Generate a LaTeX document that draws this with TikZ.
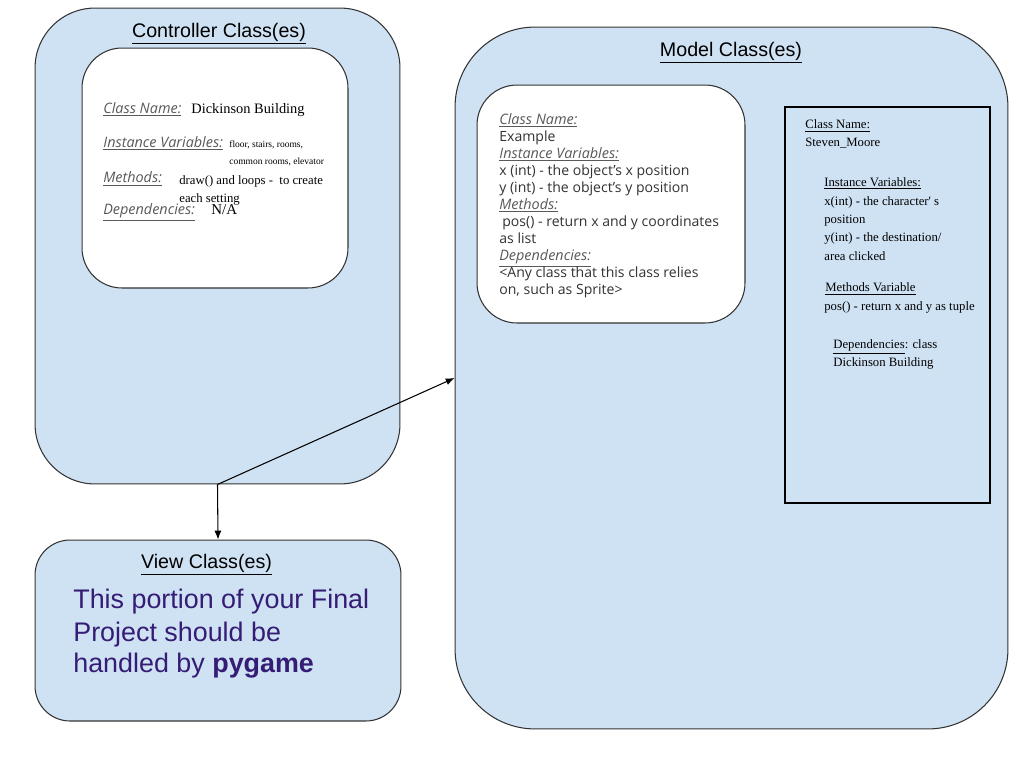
\documentclass[tikz,border=0pt]{standalone}
\usepackage{fontspec}
\usepackage{xcolor}
\usepackage{tikz}
\usetikzlibrary{arrows.meta,positioning}
\newfontfamily\arialfont{Liberation Sans}
\newfontfamily\opensansfont{Open Sans}
\newfontfamily\timesfont{Liberation Serif}
\definecolor{boxblue}{HTML}{CFE2F3}
\definecolor{viewpurple}{HTML}{351C75}
\definecolor{labelgray}{HTML}{595959}
\definecolor{textgray}{HTML}{333333}
\tikzset{classbox/.style={draw=black!80,fill=boxblue,line width=0.6pt,inner sep=0pt},
  innerbox/.style={draw=black!80,fill=white,line width=0.6pt,inner sep=0pt,rounded corners=0.8cm},
  boxtitle/.style={font=\arialfont\fontsize{11.2}{13}\selectfont,anchor=base,inner sep=0pt},
  fieldlabel/.style={font=\opensansfont\itshape\fontsize{8.2}{9.6}\selectfont,text=labelgray,anchor=base west,inner sep=0pt},
  exampletext/.style={font=\opensansfont\fontsize{8}{9.6}\selectfont,text=textgray,anchor=base west,inner sep=0pt},
  serifvalue/.style={font=\timesfont\fontsize{7.25}{9}\selectfont,anchor=base west,inner sep=0pt},
  seriftiny/.style={font=\timesfont\fontsize{5.4}{6.5}\selectfont,anchor=base west,inner sep=0pt},
  viewtext/.style={font=\arialfont\fontsize{15.3}{18.3}\selectfont,text=viewpurple,anchor=base west,inner sep=0pt}}

\begin{document}
\begin{tikzpicture}[>={Latex[length=5pt,width=4pt]},x=0.02cm,y=-0.02cm]
    \useasboundingbox (0,0) rectangle (1024,768);

    % controller
    \node[classbox,rounded corners=1.2cm,minimum width=7.3cm,minimum height=9.52cm] (ctrl) at (217.5,246) {};
    \node[boxtitle] (ctrltitle) at (219,37) {\underline{Controller Class(es)}};
    \node[innerbox,minimum width=5.32cm,minimum height=4.8cm] (ctrlin) at (215,168) {};
    \node[fieldlabel] (cname) at (103,113) {\underline{Class Name:}};
    \node[serifvalue,font=\timesfont\fontsize{8.2}{9}\selectfont] (cnameval) at (191,113) {Dickinson Building};
    \node[fieldlabel] (cvars) at (103,147) {\underline{Instance Variables:}};
    \node[seriftiny] (cvarsval) at (229,147.3) {floor, stairs, rooms,};
    \node[seriftiny] (cvarsval2) at (229,164) {common rooms, elevator};
    \node[fieldlabel] (cmeth) at (103,182.7) {\underline{Methods:}};
    \node[serifvalue] (cmethval) at (179,184) {draw() and loops -\ \ to create};
    \node[serifvalue] (cmethval2) at (179,202) {each setting};
    \node[fieldlabel] (cdeps) at (103,214) {\underline{Dependencies:}};
    \node[serifvalue,font=\timesfont\fontsize{8.5}{9}\selectfont] (cdepsval) at (211,214) {N/A};

    % view
    \node[classbox,rounded corners=0.7cm,minimum width=7.32cm,minimum height=3.62cm] (view) at (218,630.5) {};
    \node[boxtitle] (viewtitle) at (206.5,568.3) {\underline{View Class(es)}};
    \node[viewtext] (view1) at (73,608.3) {This portion of your Final};
    \node[viewtext] (view2) at (73,641) {Project should be};
    \node[viewtext] (view3) at (73,672.3) {handled by \textbf{pygame}};

    % model
    \node[classbox,rounded corners=1.6cm,minimum width=11.06cm,minimum height=14.04cm] (model) at (731.5,378) {};
    \node[boxtitle] (modeltitle) at (731,56) {\underline{Model Class(es)}};

    \node[innerbox,minimum width=5.36cm,minimum height=4.76cm] (example) at (611,204) {};
    \node[fieldlabel] (ename) at (499,124) {\underline{Class Name:}};
    \node[exampletext] (enameval) at (499,141) {Example};
    \node[fieldlabel] (evars) at (499,158) {\underline{Instance Variables:}};
    \node[exampletext] (evarsval) at (499,175) {x (int) - the object’s x position};
    \node[exampletext] (evarsval2) at (499,192) {y (int) - the object’s y position};
    \node[fieldlabel] (emeth) at (499,209) {\underline{Methods:}};
    \node[exampletext] (emethval) at (502,226) {pos() - return x and y coordinates};
    \node[exampletext] (emethval2) at (499,243) {as list};
    \node[fieldlabel] (edeps) at (499,260) {\underline{Dependencies:}};
    \node[exampletext] (edepsval) at (499,277) {<Any class that this class relies};
    \node[exampletext] (edepsval2) at (499,294) {on, such as Sprite>};

    \node[draw=black,line width=1.1pt,minimum width=4.1cm,minimum height=7.92cm] (steven) at (887.5,305) {};
    \node[serifvalue] (sname) at (805,128.3) {\underline{Class Name:}};
    \node[serifvalue] (snameval) at (805,146.7) {Steven\_Moore};
    \node[serifvalue] (svars) at (824,186) {\underline{Instance Variables:}};
    \node[serifvalue] (svarsval) at (824,205) {x(int) - the character' s};
    \node[serifvalue] (svarsval2) at (824,223.3) {position};
    \node[serifvalue] (svarsval3) at (824,241.7) {y(int) - the destination/};
    \node[serifvalue] (svarsval4) at (824,260.7) {area clicked};
    \node[serifvalue] (smeth) at (825,291.7) {\underline{Methods Variable}};
    \node[serifvalue] (smethval) at (824,310.7) {pos() - return x and y as tuple};
    \node[serifvalue] (sdeps) at (833,348.3) {\underline{Dependencies}: class};
    \node[serifvalue] (sdepsval) at (833,366.7) {Dickinson Building};

    \draw[->,line width=0.6pt] (ctrl.south) -- (view.north);
    \draw[->,line width=0.6pt] (ctrl.south) -- (model.west);
  \end{tikzpicture}
\end{document}
